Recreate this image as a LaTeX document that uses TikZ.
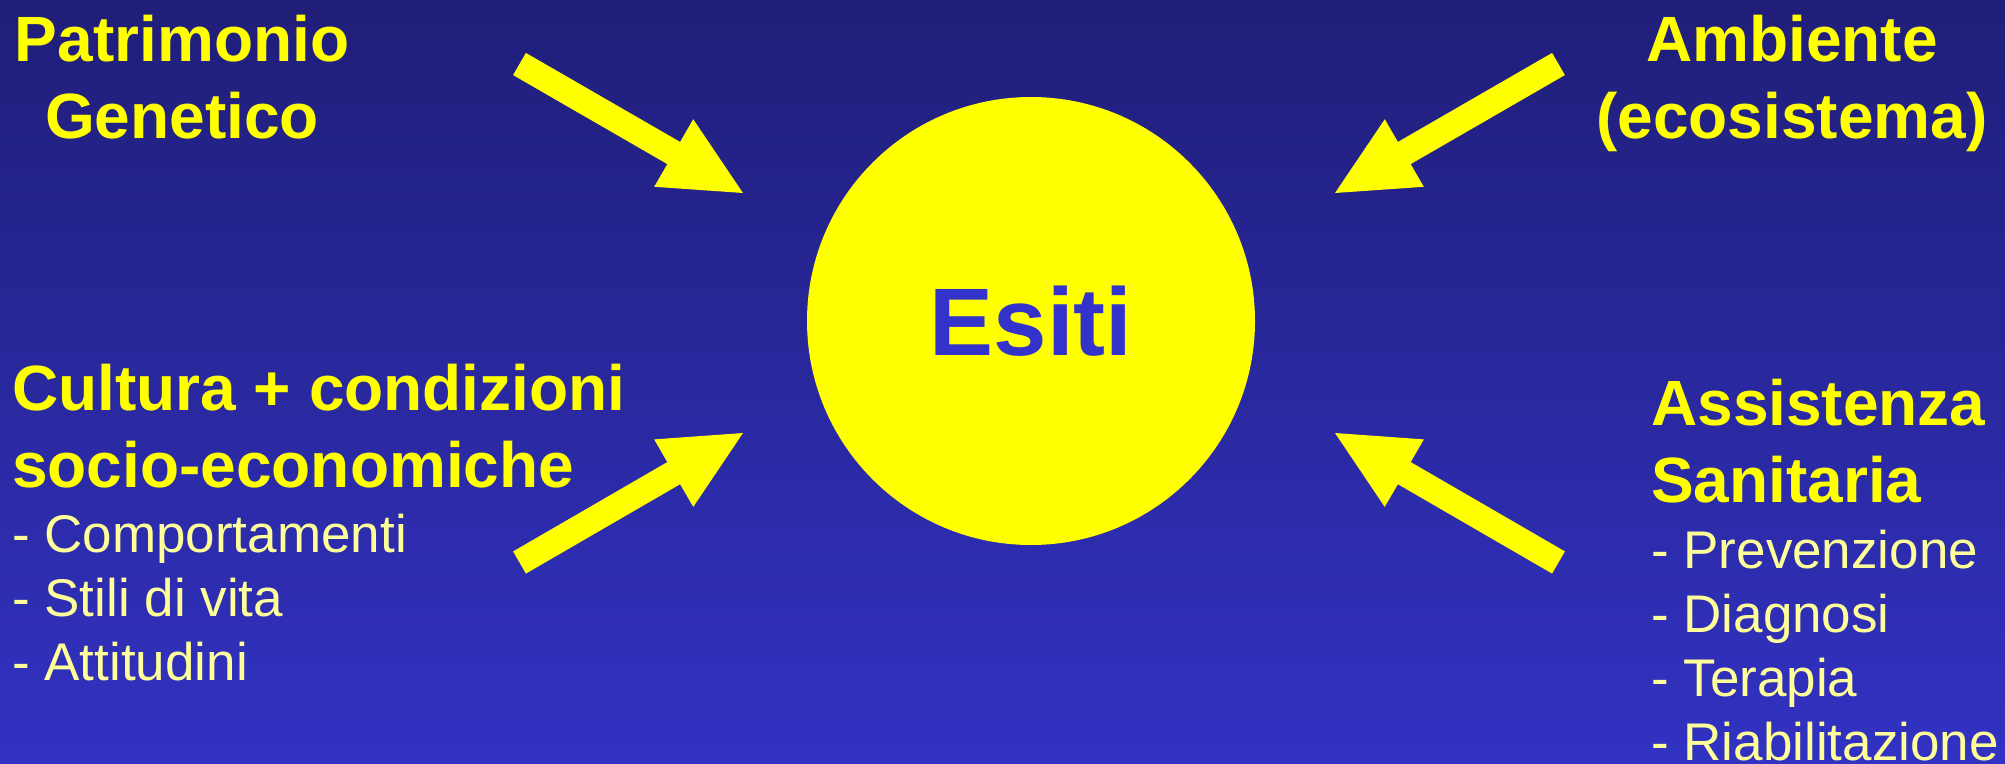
\documentclass[tikz,border=0pt]{standalone}
\usepackage{fontspec}
\setmainfont{Liberation Sans}
\usetikzlibrary{calc}
\definecolor{bgtop}{RGB}{32,30,120}
\definecolor{bgbot}{RGB}{50,50,195}
\definecolor{yel}{RGB}{255,255,0}
\definecolor{paleyel}{RGB}{255,255,153}
\definecolor{esitic}{RGB}{51,51,204}
\newcommand\fatarrow[2]{%
  \fill[arrowfill] ($(#1)!12.8pt!90:(#2)$)
    -- ($(#1)!0.69!(#2)!12.8pt!90:(#2)$)
    -- ($(#1)!0.69!(#2)!39pt!90:(#2)$)
    -- (#2)
    -- ($(#1)!0.69!(#2)!39pt!-90:(#2)$)
    -- ($(#1)!0.69!(#2)!12.8pt!-90:(#2)$)
    -- ($(#1)!12.8pt!-90:(#2)$) -- cycle;}
\begin{document}
\begin{tikzpicture}[x=1pt,y=-1pt,
  arrowfill/.style={fill=yel},
  head/.style={inner sep=0pt, text=yel, font=\fontsize{64}{77}\selectfont\bfseries},
  sub/.style={inner sep=0pt, text=paleyel, font=\fontsize{53}{64}\selectfont},
  hub/.style={circle, fill=yel, minimum size=448pt, inner sep=0pt, text=esitic, font=\fontsize{96}{110}\selectfont\bfseries}]
\useasboundingbox (0,0) rectangle (2005,763);
\shade[top color=bgtop, bottom color=bgbot] (0,0) rectangle (2005,763);

\node[hub] (esiti) at (1031,321) {Esiti};

\node[head, anchor=base] (pat) at (182,61)
  {\begin{tabular}[t]{@{}c@{}}Patrimonio\\Genetico\end{tabular}};
\node[head, anchor=base] (amb) at (1792,61)
  {\begin{tabular}[t]{@{}c@{}}Ambiente\\(ecosistema)\end{tabular}};
\node[head, anchor=base west] (cult) at (12,410)
  {\begin{tabular}[t]{@{}l@{}}Cultura + condizioni\\socio-economiche\end{tabular}};
\node[sub, anchor=base west] (cultlist) at (12,552)
  {\begin{tabular}[t]{@{}l@{}}- Comportamenti\\- Stili di vita\\- Attitudini\end{tabular}};
\node[head, anchor=base west] (ass) at (1651,425)
  {\begin{tabular}[t]{@{}l@{}}Assistenza\\Sanitaria\end{tabular}};
\node[sub, anchor=base west] (asslist) at (1651,568)
  {\begin{tabular}[t]{@{}l@{}}- Prevenzione\\- Diagnosi\\- Terapia\\- Riabilitazione\end{tabular}};

\coordinate (t1) at (519.5,64);    \coordinate (h1) at (743,193);
\coordinate (t2) at (1558.5,64);   \coordinate (h2) at (1335,193);
\coordinate (t3) at (519.5,562.5); \coordinate (h3) at (743,433);
\coordinate (t4) at (1558.5,562.5);\coordinate (h4) at (1335,433);
\fatarrow{t1}{h1}
\fatarrow{t2}{h2}
\fatarrow{t3}{h3}
\fatarrow{t4}{h4}
\end{tikzpicture}
\end{document}
